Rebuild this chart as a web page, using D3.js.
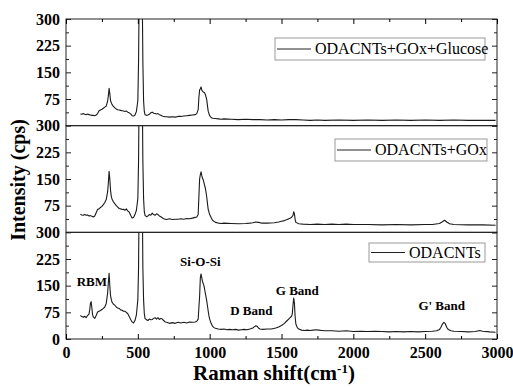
<!DOCTYPE html>
<html>
<head>
<meta charset="utf-8">
<script src="https://cdn.jsdelivr.net/npm/d3@7"></script>
<style>
  body { margin: 0; background: #fff; }
</style>
</head>
<body>
<div id="grafica"></div>
<script>
/*--- datos: [Raman shift, intensidad] ---*/
let odacnts = [[100,66],[110,63],[120,61],[130,64],[140,60],[150,66],[160,70],[165,82],[170,100],[175,105],[180,88],[185,68],[190,62],[200,58],[210,66],[220,76],[230,78],[240,80],[250,83],[260,86],[270,90],[280,100],[290,130],[295,160],[300,185],[305,150],[310,122],[315,112],[320,104],[330,98],[340,95],[350,90],[360,87],[370,86],[380,82],[390,81],[400,78],[410,78],[420,75],[430,71],[440,63],[450,55],[460,48],[470,45],[480,52],[490,68],[500,110],[505,200],[510,450],[515,800],[520,1000],[525,800],[530,450],[535,200],[540,110],[545,72],[550,58],[560,54],[570,52],[580,56],[590,54],[600,55],[610,58],[620,60],[630,56],[640,60],[650,55],[660,58],[670,56],[680,52],[690,48],[700,47],[720,44],[740,46],[760,44],[780,47],[800,45],[820,47],[840,45],[860,48],[880,47],[900,48],[910,50],[920,56],[930,120],[935,172],[940,183],[945,172],[950,162],[955,156],[960,150],[965,140],[970,128],[975,118],[980,106],[985,92],[990,78],[995,65],[1000,56],[1010,44],[1020,36],[1030,32],[1040,30],[1060,28],[1080,27],[1100,28],[1120,26],[1140,27],[1160,26],[1180,27],[1200,25],[1220,26],[1240,27],[1260,26],[1280,28],[1300,31],[1310,34],[1320,37],[1330,36],[1340,31],[1350,28],[1370,27],[1400,28],[1430,28],[1460,31],[1480,34],[1500,38],[1520,44],[1540,52],[1550,56],[1560,60],[1570,64],[1575,70],[1580,95],[1585,115],[1590,100],[1595,62],[1600,42],[1610,32],[1620,28],[1640,25],[1660,24],[1680,25],[1700,24],[1720,25],[1740,26],[1760,25],[1780,24],[1800,23],[1850,23],[1900,22],[1950,23],[2000,21],[2050,22],[2100,21],[2150,22],[2200,21],[2250,20],[2300,21],[2350,20],[2400,21],[2450,20],[2500,21],[2550,22],[2580,23],[2600,27],[2610,33],[2620,42],[2630,47],[2640,43],[2650,33],[2660,27],[2680,23],[2700,22],[2750,21],[2800,20],[2850,21],[2880,24],[2900,22],[2950,20],[2990,19]];

let odacntsGox = [[100,51],[110,49],[120,48],[130,50],[140,48],[150,49],[160,46],[170,47],[180,45],[190,43],[200,46],[210,55],[220,64],[230,66],[240,70],[250,73],[260,78],[270,84],[280,92],[290,115],[295,140],[300,172],[305,150],[310,118],[315,102],[320,94],[330,86],[340,80],[350,75],[360,71],[370,67],[380,66],[390,64],[400,65],[410,62],[420,66],[430,60],[440,57],[450,48],[460,40],[470,42],[480,50],[490,62],[500,95],[505,200],[510,450],[515,800],[520,1000],[525,800],[530,450],[535,200],[540,95],[545,58],[550,48],[560,44],[570,46],[580,50],[590,48],[600,54],[610,50],[620,48],[630,52],[640,50],[650,46],[660,44],[670,41],[680,38],[690,37],[700,36],[720,38],[740,36],[760,37],[780,37],[800,38],[820,37],[840,39],[860,38],[880,40],[900,42],[910,43],[920,50],[925,100],[930,150],[935,162],[940,170],[945,160],[950,152],[955,148],[960,140],[965,132],[970,124],[975,112],[980,98],[985,80],[990,64],[1000,50],[1010,42],[1020,34],[1040,28],[1060,26],[1080,25],[1100,26],[1150,25],[1200,24],[1250,25],[1280,26],[1300,27],[1320,29],[1340,28],[1360,26],[1400,26],[1450,27],[1480,29],[1500,31],[1520,33],[1540,36],[1555,39],[1570,42],[1580,48],[1585,58],[1590,52],[1595,36],[1600,28],[1620,24],[1650,23],[1700,22],[1750,23],[1800,22],[1850,23],[1900,22],[1950,23],[2000,22],[2100,22],[2200,21],[2300,22],[2400,21],[2500,22],[2550,22],[2600,25],[2620,30],[2635,34],[2650,29],[2670,24],[2700,22],[2800,21],[2900,21],[2990,20]];

let odacntsGoxGlucosa = [[100,33],[110,32],[120,34],[130,32],[140,31],[150,33],[160,31],[170,30],[180,29],[190,29],[200,28],[210,30],[220,34],[230,42],[240,44],[250,46],[260,49],[270,52],[280,55],[290,70],[295,85],[300,105],[305,90],[310,70],[320,60],[330,54],[340,50],[350,47],[360,45],[370,44],[380,43],[390,42],[400,41],[410,40],[420,41],[430,38],[440,36],[450,33],[460,28],[470,27],[480,30],[490,40],[500,70],[505,180],[510,400],[515,750],[520,950],[525,750],[530,400],[535,180],[540,70],[545,40],[550,31],[560,29],[570,30],[580,32],[590,36],[600,38],[610,35],[620,34],[630,33],[640,34],[650,31],[660,29],[670,27],[680,26],[690,25],[700,25],[720,24],[740,25],[760,24],[780,26],[800,26],[820,27],[840,28],[860,29],[880,30],[900,31],[910,34],[920,45],[925,80],[930,100],[935,104],[940,109],[945,100],[950,97],[955,95],[960,94],[965,92],[970,88],[975,80],[980,72],[985,55],[990,40],[1000,28],[1010,23],[1020,21],[1040,20],[1060,19],[1080,18],[1100,19],[1150,18],[1200,17],[1250,18],[1300,17],[1350,17],[1400,16],[1450,17],[1500,16],[1550,17],[1600,17],[1650,16],[1700,15],[1750,16],[1800,15],[1900,16],[2000,15],[2100,16],[2200,15],[2300,16],[2400,15],[2500,16],[2600,15],[2700,16],[2800,15],[2900,15],[2990,15]];

let xTicks = [0, 500, 1000, 1500, 2000, 2500, 3000];
let yTicks = [75, 150, 225, 300];

let paneles = [
    { nombre: "ODACNTs+GOx+Glucose", datos: odacntsGoxGlucosa },
    { nombre: "ODACNTs+GOx", datos: odacntsGox },
    { nombre: "ODACNTs", datos: odacnts }
];

let bandas = [
    { texto: "RBM", shift: 180, y: 286 },
    { texto: "Si-O-Si", shift: 935, y: 266 },
    { texto: "D Band", shift: 1290, y: 315 },
    { texto: "G Band", shift: 1610, y: 295 },
    { texto: "G' Band", shift: 2615, y: 310 }
];

/*--- Variables técnicas ---*/
let fuente = "Liberation Serif, Tinos, Times New Roman, DejaVu Serif, serif";
let width = 513, height = 387;
let mIzq = 66, mDer = 497, mSup = 19, mInf = 339;
let hPanel = (mInf - mSup) / 3;

let svg = d3.select("div#grafica").append("svg")
    .attr("width", width).attr("height", height)
    .style("font-family", fuente);

let x = d3.scaleLinear().domain([0, 3000]).range([mIzq, mDer]);

let linea = d3.line()
    .x(d => x(d[0]))
    .y(d => d.yy);

// leyendas: caja, muestra de línea y texto
let leyendas = [
    { x0: 275, x1: 485, y0: 38, y1: 60 },
    { x0: 335, x1: 487, y0: 139, y1: 161 },
    { x0: 369, x1: 485, y0: 243, y1: 262 }
];

paneles.forEach(function (p, i) {
    let y0 = mSup + i * hPanel, y1 = y0 + hPanel;
    let y = d3.scaleLinear().domain([0, 300]).range([y1, y0]);
    let g = svg.append("g");

    g.append("clipPath").attr("id", "clip" + i)
        .append("rect").attr("x", mIzq).attr("y", y0).attr("width", mDer - mIzq).attr("height", hPanel);

    // espectro
    g.append("path")
        .datum(p.datos.map(d => Object.assign([d[0], d[1]], { yy: y(d[1]) })))
        .attr("clip-path", "url(#clip" + i + ")")
        .attr("d", linea)
        .attr("fill", "none")
        .attr("stroke", "#1a1a1a")
        .attr("stroke-width", 1.1)
        .attr("stroke-linejoin", "round");

    // eje izquierdo
    let tv = i == 2 ? [0].concat(yTicks) : yTicks;
    let ejeY = g.append("g").attr("transform", "translate(" + mIzq + ",0)")
        .call(d3.axisLeft(y).tickValues(tv).tickSize(-5).tickPadding(6));
    ejeY.selectAll("text").attr("fill", "#000")
        .style("font-family", fuente).style("font-size", "16px").style("font-weight", "bold");
    g.append("g").attr("transform", "translate(" + mIzq + ",0)")
        .call(d3.axisLeft(y).tickValues([37.5, 112.5, 187.5, 262.5]).tickSize(-3).tickFormat(""));

    // eje derecho
    g.append("g").attr("transform", "translate(" + mDer + ",0)")
        .call(d3.axisRight(y).tickValues([0].concat(yTicks)).tickSize(-5).tickFormat(""));
    g.append("g").attr("transform", "translate(" + mDer + ",0)")
        .call(d3.axisRight(y).tickValues([37.5, 112.5, 187.5, 262.5]).tickSize(-3).tickFormat(""));

    g.selectAll(".domain").remove();
    g.selectAll(".tick line").attr("stroke", "#222");

    // marco del panel
    g.append("rect")
        .attr("x", mIzq).attr("y", y0).attr("width", mDer - mIzq).attr("height", hPanel)
        .attr("fill", "none").attr("stroke", "#222").attr("stroke-width", 1);

    // leyenda
    let L = leyendas[i];
    let ym = (L.y0 + L.y1) / 2;
    g.append("rect")
        .attr("x", L.x0).attr("y", L.y0).attr("width", L.x1 - L.x0).attr("height", L.y1 - L.y0)
        .attr("fill", "#fff").attr("stroke", "#999").attr("stroke-width", 1);
    g.append("line")
        .attr("x1", L.x0 + 2).attr("x2", L.x0 + 36).attr("y1", ym).attr("y2", ym)
        .attr("stroke", "#222").attr("stroke-width", 1);
    g.append("text")
        .attr("x", L.x0 + 40).attr("y", ym + 5)
        .style("font-family", fuente)
        .style("font-size", "16px")
        .text(p.nombre);
});

/*--- eje X ---*/
let ejeX = svg.append("g").attr("transform", "translate(0," + mInf + ")")
    .call(d3.axisBottom(x).tickValues(xTicks).tickSize(-5).tickPadding(8).tickFormat(d3.format("d")));
ejeX.selectAll("text").attr("fill", "#000")
    .style("font-family", fuente).style("font-size", "16px").style("font-weight", "bold");
svg.append("g").attr("transform", "translate(0," + mInf + ")")
    .call(d3.axisBottom(x).tickValues(d3.range(250, 3000, 500)).tickSize(-3).tickFormat(""));
svg.append("g").attr("transform", "translate(0," + mSup + ")")
    .call(d3.axisTop(x).tickValues(xTicks).tickSize(-5).tickFormat(""));
svg.append("g").attr("transform", "translate(0," + mSup + ")")
    .call(d3.axisTop(x).tickValues(d3.range(250, 3000, 500)).tickSize(-3).tickFormat(""));
svg.selectAll(".domain").remove();

/*--- etiquetas de bandas ---*/
svg.selectAll("text.banda")
    .data(bandas)
    .enter().append("text")
    .attr("class", "banda")
    .attr("x", d => x(d.shift))
    .attr("y", d => d.y)
    .attr("text-anchor", "middle")
    .style("font-family", fuente)
    .style("font-size", "13px")
    .style("font-weight", "bold")
    .text(d => d.texto);

/*--- títulos de ejes ---*/
let tituloX = svg.append("text")
    .attr("x", 274).attr("y", 380)
    .attr("text-anchor", "middle")
    .style("font-family", fuente)
    .style("font-size", "21px").style("font-weight", "bold");
tituloX.append("tspan").text("Raman shift(cm");
tituloX.append("tspan").attr("dy", -7).style("font-size", "13px").text("-1");
tituloX.append("tspan").attr("dy", 7).text(")");

svg.append("text")
    .attr("transform", "translate(25,180) rotate(-90)")
    .attr("text-anchor", "middle")
    .style("font-family", fuente)
    .style("font-size", "20px").style("font-weight", "bold")
    .text("Intensity (cps)");
</script>
</body>
</html>
